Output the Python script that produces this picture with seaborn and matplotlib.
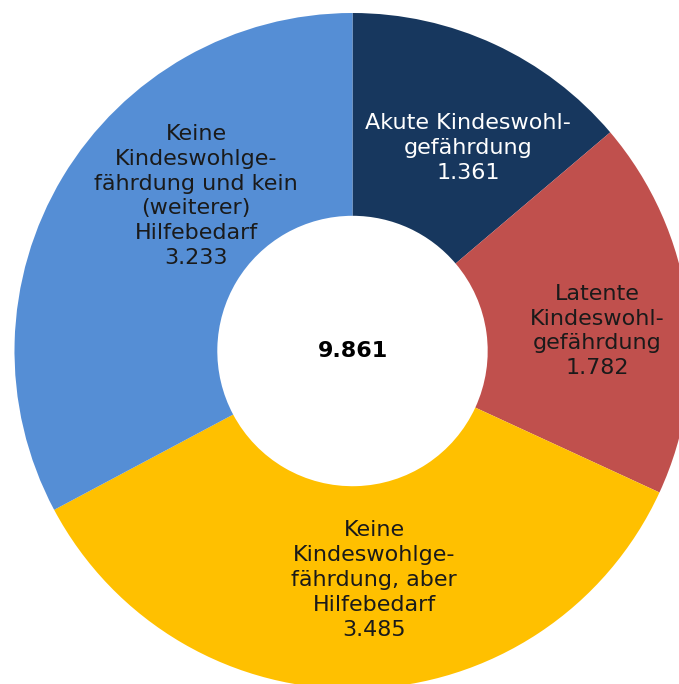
import matplotlib
matplotlib.use("Agg")
import seaborn as sns
import matplotlib.pyplot as plt

# data
labels = ["Akute Kindeswohl-\ngefährdung",
          "Latente\nKindeswohl-\ngefährdung",
          "Keine\nKindeswohlge-\nfährdung, aber\nHilfebedarf",
          "Keine\nKindeswohlge-\nfährdung und kein\n(weiterer)\nHilfebedarf"]
values = [1361, 1782, 3485, 3233]
colors = ["#17375E", "#C0504D", "#FFC000", "#558ED5"]
text_colors = ["white", "#1a1a1a", "#1a1a1a", "#1a1a1a"]
total_label = "9.861"


def de_num(v):
    return f"{v:,}".replace(",", ".")


sns.set_theme(style="white")
plt.rcParams["font.family"] = ["DejaVu Sans"]

fig = plt.figure(figsize=(6.79, 6.84), dpi=100)
ax = fig.add_axes([0, 0, 1, 1])

R = 338.0  # outer radius in px
cx, cy = 352.5, 351.0  # centre in px (from top-left)

wedges, _ = ax.pie(values, colors=colors, startangle=90, counterclock=False,
                   radius=1.0, wedgeprops=dict(width=0.6, linewidth=0))

# label centres in px
label_px = [(468, 148), (597, 331), (374, 580), (196, 196)]
for lab, v, (px, py), tc in zip(labels, values, label_px, text_colors):
    ax.text((px - cx) / R, (cy - py) / R, lab + "\n" + de_num(v),
            ha="center", va="center", fontsize=16, color=tc,
            linespacing=1.3)

ax.text(0, 0, total_label, ha="center", va="center", fontsize=16,
        fontweight="bold", color="black")

ax.set_xlim(-cx / R, (679 - cx) / R)
ax.set_ylim(-(684 - cy) / R, cy / R)
ax.set_aspect("auto")
ax.axis("off")

fig.savefig("out.png", dpi=100)
